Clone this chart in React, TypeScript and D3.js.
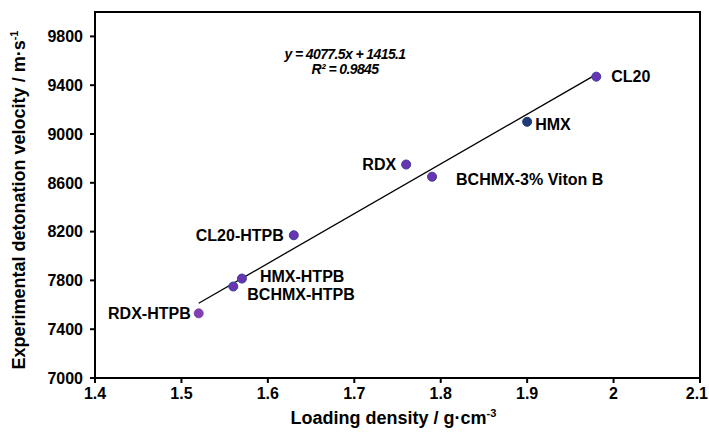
import React from "react";
import * as d3 from "d3";

const names = ["CL20", "HMX", "RDX", "BCHMX-3% Viton B", "CL20-HTPB", "HMX-HTPB", "BCHMX-HTPB", "RDX-HTPB"];
const density = [1.98, 1.9, 1.76, 1.79, 1.63, 1.57, 1.56, 1.52];
const velocity = [9470, 9100, 8750, 8650, 8170, 7815, 7750, 7530];
const fills = ["#6a33b0", "#1f3a78", "#6a33b0", "#6a33b0", "#6a33b0", "#6a33b0", "#6a33b0", "#8040b0"];
const strokes = ["#3040a0", "#1f3a78", "#3040a0", "#3040a0", "#3040a0", "#3040a0", "#3040a0", "#8040b0"];
const labelSide = ["right", "right", "left", "right", "left", "right", "right", "left"];
const labelDx = [15, 8, -10, 24, -10, 18, 14, -8];
const labelDy = [0, 2, 0, 3, 0, -2, 8, 0];
const xTicks = [1.4, 1.5, 1.6, 1.7, 1.8, 1.9, 2, 2.1];
const yTicks = [7000, 7400, 7800, 8200, 8600, 9000, 9400, 9800];
const slope = 4077.5;
const intercept = 1415.1;
const fitRange = [1.52, 1.98];

export default function App() {
  const W = 709, H = 432;
  const left = 95, right = 700, top = 12, bottom = 378;
  const x = d3.scaleLinear().domain([1.4, 2.1]).range([left, right]);
  const y = d3.scaleLinear().domain([7000, 10000]).range([bottom, top]);
  const font = "'Liberation Sans', Arial, sans-serif";
  const line = d3.line<number>().x((d) => x(d)).y((d) => y(slope * d + intercept));
  return (
    <svg width={W} height={H} style={{ position: "absolute", left: 0, top: 0 }} fontFamily={font}>
      <rect x={0} y={0} width={W} height={H} fill="#fff" />
      <rect x={left} y={top} width={right - left} height={bottom - top} fill="none" stroke="#000" strokeWidth={2} />
      {yTicks.map((t) => (
        <g key={t}>
          <line x1={left - 5} x2={left} y1={y(t)} y2={y(t)} stroke="#000" strokeWidth={2} />
          <text x={left - 12} y={y(t)} dy="0.36em" textAnchor="end" fontSize={16} fontWeight="bold">{t}</text>
        </g>
      ))}
      {xTicks.map((t, i) => {
        const last = i === xTicks.length - 1;
        return (
          <g key={t}>
            <line x1={x(t)} x2={x(t)} y1={bottom} y2={bottom + 5} stroke="#000" strokeWidth={2} />
            <text x={last ? W - 1 : x(t)} y={bottom + 21} textAnchor={last ? "end" : "middle"} fontSize={16} fontWeight="bold">{String(t)}</text>
          </g>
        );
      })}
      <text x={(left + right) / 2 - 4} y={424} textAnchor="middle" fontSize={18} fontWeight="bold">
        Loading density / g·cm<tspan dy="-7" fontSize={11}>-3</tspan>
      </text>
      <text transform={`translate(25,${(top + bottom) / 2 + 5}) rotate(-90)`} textAnchor="middle" fontSize={18} fontWeight="bold">
        Experimental detonation velocity / m·s<tspan dy="-7" fontSize={11}>-1</tspan>
      </text>
      <path d={line(fitRange) || ""} stroke="#000" strokeWidth={1.3} fill="none" />
      {names.map((n, i) => (
        <circle key={n} cx={x(density[i])} cy={y(velocity[i])} r={4.5} fill={fills[i]} stroke={strokes[i]} strokeWidth={1} />
      ))}
      {names.map((n, i) => (
        <text key={n} x={x(density[i]) + labelDx[i]} y={y(velocity[i]) + labelDy[i]} dy="0.36em"
          textAnchor={labelSide[i] === "left" ? "end" : "start"} fontSize={16} fontWeight="bold">{n}</text>
      ))}
      <text x={345} y={59} textAnchor="middle" fontSize={14} fontWeight="bold" fontStyle="italic" letterSpacing={-0.6}>
        y = 4077.5x + 1415.1
      </text>
      <text x={345} y={74} textAnchor="middle" fontSize={14} fontWeight="bold" fontStyle="italic" letterSpacing={-0.6}>
        R² = 0.9845
      </text>
    </svg>
  );
}
